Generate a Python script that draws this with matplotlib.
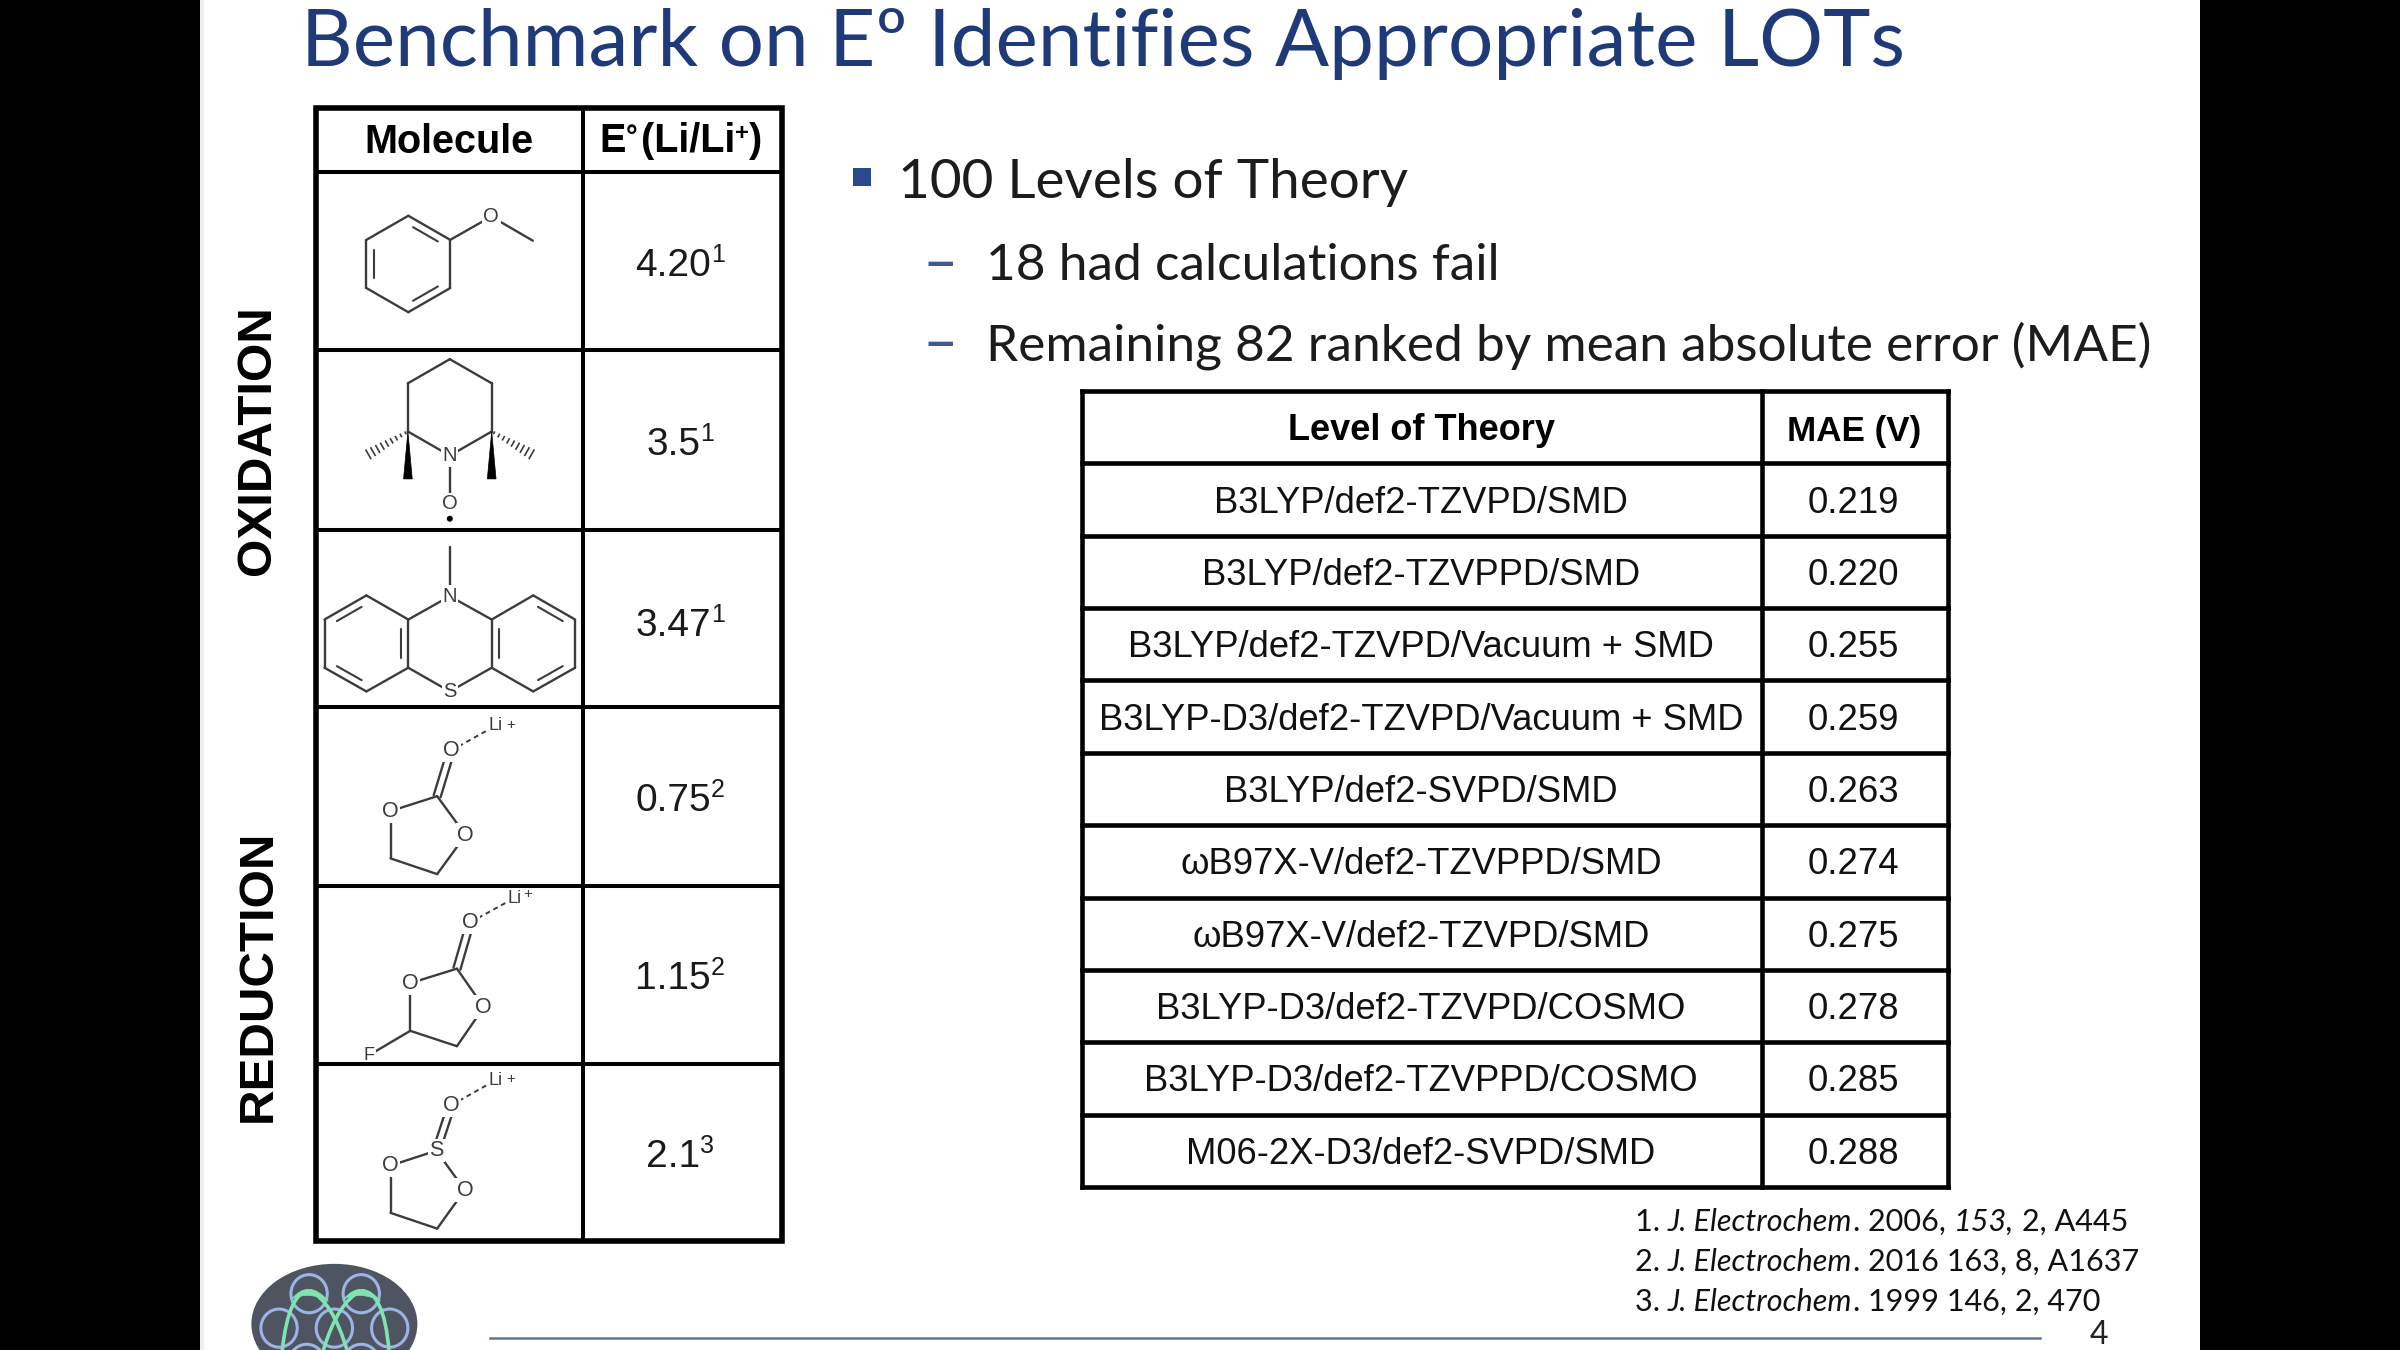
import matplotlib
matplotlib.use("Agg")
import matplotlib.pyplot as plt
import numpy as np
from matplotlib.patches import Rectangle, Ellipse, Circle, Polygon, PathPatch
from matplotlib.path import Path

# ---------- content ----------
TITLE = "Benchmark on Eº Identifies Appropriate LOTs"
BULLET = "100 Levels of Theory"
SUBS = ["18 had calculations fail", "Remaining 82 ranked by mean absolute error (MAE)"]
levels = ["B3LYP/def2-TZVPD/SMD", "B3LYP/def2-TZVPPD/SMD", "B3LYP/def2-TZVPD/Vacuum + SMD",
          "B3LYP-D3/def2-TZVPD/Vacuum + SMD", "B3LYP/def2-SVPD/SMD", "ωB97X-V/def2-TZVPPD/SMD",
          "ωB97X-V/def2-TZVPD/SMD", "B3LYP-D3/def2-TZVPD/COSMO", "B3LYP-D3/def2-TZVPPD/COSMO",
          "M06-2X-D3/def2-SVPD/SMD"]
mae = ["0.219", "0.220", "0.255", "0.259", "0.263", "0.274", "0.275", "0.278", "0.285", "0.288"]
potentials = ["4.20", "3.5", "3.47", "0.75", "1.15", "2.1"]
pot_refs = ["1", "1", "1", "2", "2", "3"]
refs = [("1. ", " 2006, ", "153,", " 2, A445"),
        ("2. ", " 2016 163, 8, A1637", "", ""),
        ("3. ", " 1999 146, 2, 470", "", "")]

# ---------- layout ----------
left_x = [316, 583, 782]
left_y = [108, 172, 350, 530, 707, 886, 1064, 1241]
pot_y = [262, 441, 622, 797, 975, 1153]
right_x = [1082, 1762, 1948]
right_y = np.linspace(391, 1187, 12)
TITLE_C = "#1f3a78"
BLUE = "#2b4a8c"
MOL = "#3c3c3c"
SANS = "Liberation Sans"
LATO = "Lato"

fig = plt.figure(figsize=(24, 13.5), dpi=100, facecolor="black")
ax = fig.add_axes([0, 0, 1, 1])
ax.set_xlim(0, 2400)
ax.set_ylim(1350, 0)
ax.axis("off")
ax.add_patch(Rectangle((200, 0), 2000, 1350, fc="white", ec="none", zorder=0))
ax.add_patch(Rectangle((200, 0), 4, 1350, fc="#efefef", ec="none", zorder=0))
fig.canvas.draw()
rend = fig.canvas.get_renderer()


def runs(x, y, parts, ha="left", **common):
    """parts: (string, dict of text options, baseline rise in px)"""
    widths = []
    for s, kw, rise in parts:
        if not s:
            widths.append(0)
            continue
        t = ax.text(0, 0, s.replace(" ", "\u00a0"), **{**common, **kw})
        widths.append(t.get_window_extent(rend).width)
        t.remove()
    x0 = x - sum(widths) / 2 if ha == "center" else x
    for (s, kw, rise), w in zip(parts, widths):
        if s:
            ax.text(x0, y - rise, s.replace(" ", "\u00a0"), va="baseline", ha="left", **{**common, **kw})
        x0 += w


# ---------- title & bullets ----------
ax.text(301, 66, TITLE, family=LATO, fontsize=57.6, color=TITLE_C, va="baseline")
ax.add_patch(Rectangle((853, 168), 18, 18, fc=BLUE, ec="none"))
ax.text(898, 198, BULLET, family=LATO, fontsize=39.5, color="#1c1c1c", va="baseline")
for y, s in zip([280, 360], SUBS):
    ax.text(923, y + 2, "–", family=LATO, fontsize=44, color=BLUE, va="baseline", alpha=0.9)
    ax.text(986, y, s, family=LATO, fontsize=37, color="#1c1c1c", va="baseline")


# ---------- tables ----------
def grid(xs, ys, lw):
    for x in xs:
        ax.plot([x, x], [ys[0], ys[-1]], color="black", lw=lw, solid_capstyle="projecting", zorder=3)
    for y in ys:
        ax.plot([xs[0], xs[-1]], [y, y], color="black", lw=lw, solid_capstyle="projecting", zorder=3)


grid(left_x, left_y, 2.9)
grid(right_x, right_y, 3.3)
# outer frame of the left table is heavier
ax.add_patch(Rectangle((left_x[0], left_y[0]), left_x[2] - left_x[0], left_y[-1] - left_y[0],
                       fc="none", ec="black", lw=4.0, zorder=3))

ax.text(449, 142, "Molecule", family=SANS, weight="bold", fontsize=28.5, ha="center", va="center")
runs(681, 152, [("E", {"fontsize": 28.5}, 0), ("°", {"fontsize": 21}, 6), (" ", {"fontsize": 9}, 0),
                ("(Li/Li", {"fontsize": 28.5}, 0), ("+", {"fontsize": 17}, 12), (")", {"fontsize": 28.5}, 0)],
     ha="center", family=SANS, weight="bold", color="black")
for y, p, r in zip(pot_y, potentials, pot_refs):
    runs(680, y + 14, [(p, {}, 0), (r, {"fontsize": 18}, 14)], ha="center", family=SANS, fontsize=28, color="#1a1a1a")

ax.text(1421, 431, "Level of Theory", family=SANS, weight="bold", fontsize=26, ha="center", va="center")
ax.text(1854, 431, "MAE (V)", family=SANS, weight="bold", fontsize=25.2, ha="center", va="center")
for i, (l, m) in enumerate(zip(levels, mae)):
    yc = (right_y[i + 1] + right_y[i + 2]) / 2 + 3.5
    ax.text(1421, yc, l, family=SANS, fontsize=26.2, ha="center", va="center", color="#111111")
    ax.text(1853, yc, m, family=SANS, fontsize=26.3, ha="center", va="center", color="#111111")

ax.text(258, 440, "OXIDATION", family=SANS, weight="bold", fontsize=35.5, rotation=90, ha="center", va="center")
ax.text(258, 976, "REDUCTION", family=SANS, weight="bold", fontsize=35.5, rotation=90, ha="center", va="center")


# ---------- molecule drawings ----------
def z1(p):
    return (200 + p[0] / 2.53, 90 + p[1] / 2.489)


def z2(p):
    return (200 + p[0] / 2.53, 700 + p[1] / 2.412)


def bond(a, b, lw=1.7):
    ax.plot([a[0], b[0]], [a[1], b[1]], color=MOL, lw=lw, zorder=2, solid_capstyle="round")


def chain(pts, closed=False):
    seq = list(pts) + ([pts[0]] if closed else [])
    for a, b in zip(seq[:-1], seq[1:]):
        bond(a, b)


def inner(a, b, c, f=0.18, trim=0.14):
    a, b, c = map(np.array, (a, b, c))
    a2, b2 = a + (c - a) * f, b + (c - b) * f
    d = b2 - a2
    bond(a2 + d * trim, b2 - d * trim, lw=1.5)


def parallel(a, b, off=4.5):
    a, b = np.array(a), np.array(b)
    n = np.array([-(b - a)[1], (b - a)[0]])
    n = n / np.hypot(*n) * off
    bond(a + n, b + n)
    bond(a - n, b - n)


def label(p, s, size=14.5):
    ax.text(p[0], p[1], s, family=SANS, fontsize=size, color=MOL, ha="center", va="center", zorder=2.5,
            bbox=dict(fc="white", ec="none", pad=1.0))


def wedge(a, tip_l, tip_r):
    ax.add_patch(Polygon([a, tip_l, tip_r], closed=True, fc="black", ec="black", lw=0.5, zorder=2))


def hashed(a, b, n=9, w=9):
    a, b = np.array(a), np.array(b)
    d = b - a
    nv = np.array([-d[1], d[0]]) / np.hypot(*d)
    for i in range(n):
        t = (i + 0.5) / n
        c = a + d * t
        h = nv * w * t / 2 + nv * 0.5
        ax.plot([c[0] - h[0], c[0] + h[0]], [c[1] - h[1], c[1] + h[1]], color=MOL, lw=1.2, zorder=2)


# anisole
ring = [z1(p) for p in [(527, 313), (633, 373), (633, 493), (527, 553), (421, 493), (421, 373)]]
cen = z1((527, 433))
chain(ring, True)
for i, j in [(0, 1), (2, 3), (4, 5)]:
    inner(ring[i], ring[j], cen)
o = z1((737, 315))
bond(ring[1], o)
bond(o, z1((842, 375)))
label(o, "O")

# TEMPO
ring = [z1(p) for p in [(632, 670), (738, 730), (738, 850), (632, 910), (526, 850), (526, 730)]]
chain(ring, True)
n_atom = z1((632, 910))
o = z1((632, 1030))
bond(n_atom, o)
label(n_atom, "N")
label(o, "O")
ax.add_patch(Circle(z1((632, 1067)), 3.0, fc="black", ec="none", zorder=2))
wedge(z1((526, 850)), z1((515, 968)), z1((537, 968)))
wedge(z1((738, 850)), z1((727, 968)), z1((749, 968)))
hashed(z1((526, 850)), z1((420, 910)))
hashed(z1((738, 850)), z1((845, 910)))

# phenothiazine
lring = [z1(p) for p in [(527, 1318), (527, 1438), (421, 1497), (315, 1438), (315, 1318), (421, 1258)]]
rring = [z1(p) for p in [(738, 1318), (738, 1438), (843, 1497), (949, 1438), (949, 1318), (843, 1258)]]
chain(lring, True)
chain(rring, True)
for i, j in [(0, 1), (2, 3), (4, 5)]:
    inner(lring[i], lring[j], z1((421, 1378)))
    inner(rring[i], rring[j], z1((843, 1378)))
n_atom, s_atom = z1((632, 1260)), z1((632, 1497))
bond(z1((632, 1138)), n_atom)
for q in (lring[0], rring[0]):
    bond(q, n_atom)
for q in (lring[1], rring[1]):
    bond(q, s_atom)
label(n_atom, "N")
label(s_atom, "S")


# five-membered rings
def five(c, dbl_o, li, ol, or_, c1, c2, centre="", f=None, li_plus=(38, -2)):
    chain([c, ol, c1, c2, or_, c])
    parallel(c, dbl_o, off=3.6)
    ax.plot([dbl_o[0], li[0]], [dbl_o[1], li[1]], color=MOL, lw=1.4, ls=(0, (2.5, 2)), zorder=2)
    label(dbl_o, "O", 15.5)
    label(ol, "O", 15.5)
    label(or_, "O", 15.5)
    if centre:
        label(c, centre, 15.5)
    if f:
        bond(c1, f)
        label(f, "F", 13)
    ax.text(li[0], li[1], "Li", family=SANS, fontsize=13, color=MOL, ha="center", va="center", zorder=2.5,
            bbox=dict(fc="white", ec="none", pad=0.8))
    ax.text(li[0] + li_plus[0] / 2.53, li[1] + li_plus[1] / 2.41, "+", family=SANS, fontsize=11,
            color=MOL, ha="center", va="center", zorder=2.5)


five(*[z2(p) for p in [(600, 232), (635, 122), (748, 62), (482, 268), (672, 326), (482, 382), (600, 420)]])
five(*[z2(p) for p in [(650, 648), (684, 536), (795, 478), (532, 683), (718, 741), (532, 798), (650, 835)]],
     f=z2((427, 857)), li_plus=(33, -10))
five(*[z2(p) for p in [(598, 1087), (636, 977), (748, 917), (482, 1123), (670, 1182), (482, 1237), (600, 1275)]],
     centre="S")

# ---------- references, footer ----------
ital = {"style": "italic"}
for y, (num, mid, it2, tail) in zip([1231, 1271, 1311], refs):
    runs(1635, y, [(num, {}, 0), ("J. Electrochem", ital, 0), (".", {}, 0), (mid, {}, 0), (it2, ital, 0), (tail, {}, 0)],
         family=LATO, fontsize=22.1, color="#111111")
ax.plot([490, 2040], [1338, 1338], color="#5f7299", lw=1.8, zorder=1)
ax.text(2099, 1344, "4", family=LATO, fontsize=23, color="#222222", ha="center", va="baseline")

# ---------- logo ----------
lz = lambda x, y: (200 + x / 2.53, 700 + y / 2.412)
cx, cy = lz(340, 1505)
bg = Ellipse((cx, cy), 420 / 2.53, 290 / 2.412, fc="#4e5560", ec="none", zorder=1)
ax.add_patch(bg)
for p in [(276, 1432), (408, 1432), (200, 1515), (340, 1515), (480, 1515), (270, 1600), (408, 1600)]:
    c = Ellipse(lz(*p), 92 / 2.53, 92 / 2.412, fc="none", ec="#9db4e6", lw=2.2, zorder=1.2)
    ax.add_patch(c)
    c.set_clip_path(bg)
GREEN = "#7fe3b2"
strands = [((208, 1568), (225, 1425), (278, 1425)), ((278, 1425), (335, 1450), (372, 1568)),
           ((408, 1425), (350, 1450), (312, 1568)), ((408, 1425), (465, 1425), (478, 1568))]
for a, b, c in strands:
    pth = Path([lz(*a), lz(*b), lz(*c)], [Path.MOVETO, Path.CURVE3, Path.CURVE3])
    ax.add_patch(PathPatch(pth, fc="none", ec=GREEN, lw=2.6, zorder=1.3))
for dx in (0, 132):
    cres = Path([lz(232 + dx, 1445), lz(275 + dx, 1395), lz(325 + dx, 1450), lz(275 + dx, 1425), lz(232 + dx, 1445)],
                [Path.MOVETO, Path.CURVE3, Path.CURVE3, Path.CURVE3, Path.CURVE3])
    ax.add_patch(PathPatch(cres, fc=GREEN, ec=GREEN, lw=0.5, zorder=1.4))

fig.savefig("out.png", dpi=100, facecolor="black")
